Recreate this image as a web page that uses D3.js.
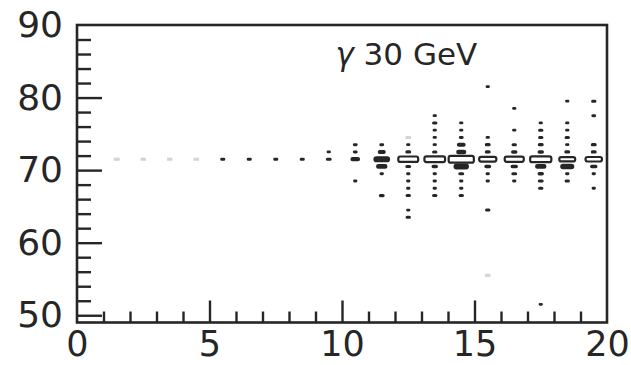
<!DOCTYPE html>
<html>
<head>
<meta charset="utf-8">
<script src="https://cdn.jsdelivr.net/npm/d3@7"></script>
<style>
  html, body { margin: 0; padding: 0; background: #fff; }
  svg { display: block; }
</style>
</head>
<body>
<svg id="chart" width="631" height="365"></svg>
<script>
// ---- data (2D histogram cells drawn as boxes, PAW "BOX" style) ----
const xLabels = [0, 5, 10, 15, 20];
const yLabels = [50, 60, 70, 80, 90];
const xMajorTicks = [5, 10, 15];
const xMinorTicks = [1, 2, 3, 4, 6, 7, 8, 9, 11, 12, 13, 14, 16, 17, 18, 19];
const yMajorTicks = [50, 60, 70, 80];
const yMinorTicks = [52, 54, 56, 58, 62, 64, 66, 68, 72, 74, 76, 78, 82, 84, 86, 88];
const title = "30 GeV";

// cell centres (x bin, y bin) and cell contents
const cellX = [
  5.5, 6.5, 7.5, 8.5,
  9.5, 9.5,
  10.5, 10.5, 10.5, 10.5,
  11.5, 11.5, 11.5, 11.5, 11.5, 11.5,
  12.5, 12.5, 12.5, 12.5, 12.5, 12.5, 12.5, 12.5, 12.5, 12.5,
  13.5, 13.5, 13.5, 13.5, 13.5, 13.5, 13.5, 13.5, 13.5, 13.5, 13.5, 13.5,
  14.5, 14.5, 14.5, 14.5, 14.5, 14.5, 14.5, 14.5, 14.5, 14.5, 14.5,
  15.5, 15.5, 15.5, 15.5, 15.5, 15.5, 15.5, 15.5, 15.5,
  16.5, 16.5, 16.5, 16.5, 16.5, 16.5, 16.5, 16.5,
  17.5, 17.5, 17.5, 17.5, 17.5, 17.5, 17.5, 17.5, 17.5, 17.5, 17.5,
  18.5, 18.5, 18.5, 18.5, 18.5, 18.5, 18.5, 18.5, 18.5, 18.5,
  19.5, 19.5, 19.5, 19.5, 19.5, 19.5, 19.5, 19.5
];
const cellY = [
  71.5, 71.5, 71.5, 71.5,
  72.5, 71.5,
  73.5, 72.5, 71.5, 68.5,
  73.5, 72.5, 71.5, 70.5, 69.5, 66.5,
  73.5, 72.5, 71.5, 70.5, 69.5, 68.5, 67.5, 66.5, 64.5, 63.5,
  77.5, 76.5, 75.5, 74.5, 73.5, 72.5, 71.5, 70.5, 69.5, 68.5, 67.5, 66.5,
  76.5, 75.5, 74.5, 73.5, 72.5, 71.5, 70.5, 69.5, 68.5, 67.5, 66.5,
  81.5, 74.5, 73.5, 72.5, 71.5, 70.5, 69.5, 68.5, 64.5,
  78.5, 75.5, 73.5, 72.5, 71.5, 70.5, 69.5, 68.5,
  76.5, 75.5, 74.5, 73.5, 72.5, 71.5, 70.5, 69.5, 68.5, 67.5, 51.5,
  79.5, 76.5, 75.5, 74.5, 73.5, 72.5, 71.5, 70.5, 69.5, 68.5,
  79.5, 77.5, 73.5, 72.5, 71.5, 70.5, 69.5, 67.5
];
const cellN = [
  11, 11, 11, 11,
  8, 14,
  10, 10, 28, 8,
  10, 22, 55, 35, 8, 14,
  8, 14, 75, 14, 8, 8, 8, 12, 8, 12,
  8, 12, 8, 8, 8, 12, 78, 16, 8, 8, 8, 12,
  8, 8, 10, 25, 30, 95, 50, 14, 8, 8, 12,
  8, 8, 14, 14, 65, 18, 8, 8, 12,
  8, 8, 12, 16, 72, 20, 14, 8,
  8, 12, 12, 14, 16, 80, 35, 16, 14, 12, 8,
  8, 8, 8, 12, 8, 14, 60, 45, 8, 12,
  12, 10, 14, 14, 62, 20, 8, 8
];
// faint (faded print) cells
const fadedX = [1.5, 2.5, 3.5, 4.5, 12.5, 15.5];
const fadedY = [71.5, 71.5, 71.5, 71.5, 74.5, 55.5];
const fadedN = [14, 12, 12, 12, 12, 12];
const nMax = 100;

// ---- drawing ----
const svg = d3.select("#chart");
const x = d3.scaleLinear().domain([0, 20]).range([77, 607]);
const y = d3.scaleLinear().domain([49, 90]).range([322.5, 25]);
const ink = "#262626";
const font = "DejaVu Sans, sans-serif";

const cellW = x(1) - x(0);
const cellH = y(0) - y(1);

// faded cells
svg.append("g").selectAll("rect")
  .data(fadedX.map((d, i) => ({ cx: d, cy: fadedY[i], n: fadedN[i] })))
  .join("rect")
  .attr("x", d => x(d.cx) - cellW * d.n / nMax / 2)
  .attr("y", d => y(d.cy) - cellH * d.n / nMax / 2)
  .attr("width", d => cellW * d.n / nMax)
  .attr("height", d => cellH * d.n / nMax)
  .attr("fill", "none")
  .attr("stroke", "#d4d4d4")
  .attr("stroke-width", 2.2);

// cells
const cells = cellX.map((d, i) => ({ cx: d, cy: cellY[i], n: cellN[i] }))
  .sort((a, b) => b.n - a.n);
svg.append("g").selectAll("rect")
  .data(cells)
  .join("rect")
  .attr("x", d => x(d.cx) - cellW * d.n / nMax / 2)
  .attr("y", d => y(d.cy) - cellH * d.n / nMax / 2)
  .attr("width", d => cellW * d.n / nMax)
  .attr("height", d => cellH * d.n / nMax)
  .attr("rx", d => Math.min(2, cellH * d.n / nMax / 2))
  .attr("fill", d => d.n >= 60 ? "#fff" : ink)
  .attr("stroke", ink)
  .attr("stroke-width", 2.2);

function styleAxis(g) {
  g.select(".domain").remove();
  g.selectAll(".tick line").attr("stroke", ink).attr("stroke-width", 2.4);
  g.selectAll(".tick text").attr("fill", ink).attr("font-family", font);
}

// x ticks (pointing inwards)
svg.append("g").attr("transform", `translate(0,${y(49)})`)
  .call(d3.axisBottom(x).tickValues(xMinorTicks).tickSizeInner(-11).tickSizeOuter(0).tickFormat(""))
  .call(styleAxis);
svg.append("g").attr("transform", `translate(0,${y(49)})`)
  .call(d3.axisBottom(x).tickValues(xMajorTicks).tickSizeInner(-22).tickSizeOuter(0).tickFormat(""))
  .call(styleAxis);
svg.append("g").attr("transform", `translate(0,${y(49)})`)
  .call(d3.axisBottom(x).tickValues(xLabels).tickSize(0).tickPadding(9).tickFormat(d3.format("d")))
  .call(styleAxis)
  .call(g => g.selectAll(".tick text").attr("font-size", 35));

// y ticks (pointing inwards)
svg.append("g").attr("transform", `translate(${x(0)},0)`)
  .call(d3.axisLeft(y).tickValues(yMinorTicks).tickSizeInner(-14).tickSizeOuter(0).tickFormat(""))
  .call(styleAxis);
svg.append("g").attr("transform", `translate(${x(0)},0)`)
  .call(d3.axisLeft(y).tickValues(yMajorTicks).tickSizeInner(-25).tickSizeOuter(0).tickFormat(""))
  .call(styleAxis);
svg.append("g").attr("transform", `translate(${x(0)},0)`)
  .call(d3.axisLeft(y).tickValues(yLabels).tickSize(0).tickPadding(14).tickFormat(d3.format("d")))
  .call(styleAxis)
  .call(g => g.selectAll(".tick text").attr("font-size", 36));

// frame
svg.append("rect")
  .attr("x", x(0)).attr("y", y(90))
  .attr("width", x(20) - x(0)).attr("height", y(49) - y(90))
  .attr("fill", "none").attr("stroke", ink).attr("stroke-width", 2.6);

// title
const t = svg.append("text")
  .attr("x", x(9.75)).attr("y", y(84.5))
  .attr("font-family", font).attr("font-size", 31).attr("fill", ink);
t.append("tspan").attr("font-style", "italic").text("γ");
t.append("tspan").text(" " + title);
</script>
</body>
</html>
